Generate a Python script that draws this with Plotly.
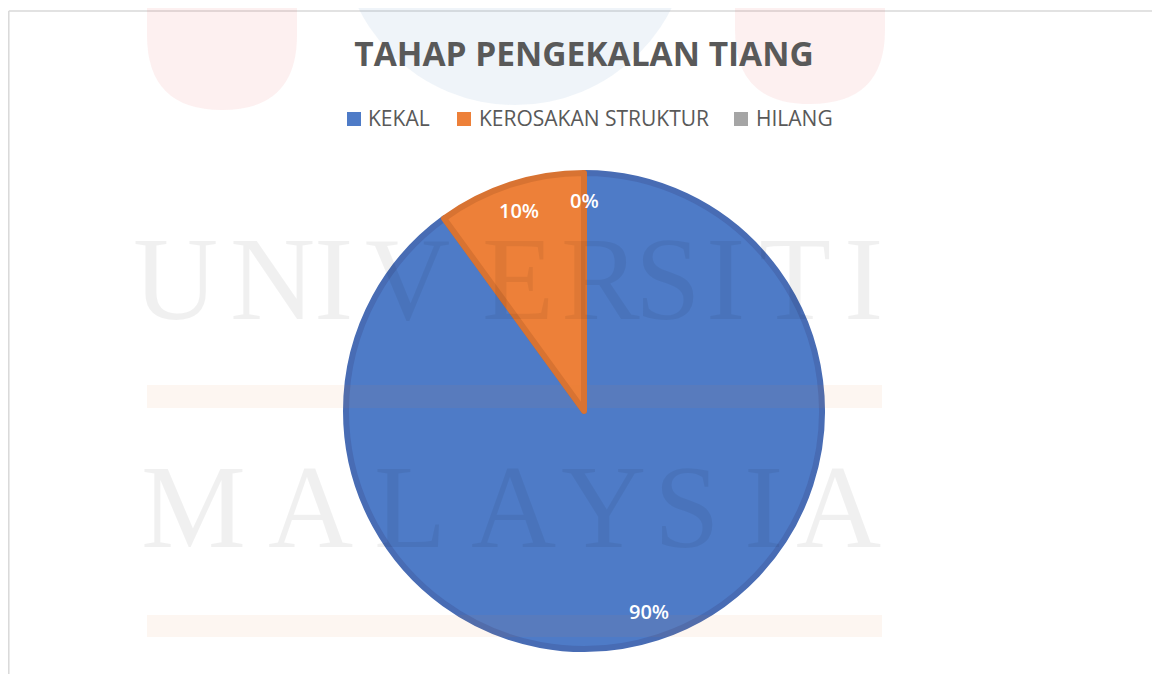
import plotly.graph_objects as go
import numpy as np

# ---- data ----
categories = ["KEKAL", "KEROSAKAN STRUKTUR", "HILANG"]
values = [90, 10, 0]
fill_colors = ["#4e7bc7", "#ed8039", "#a5a5a5"]
edge_colors = ["#486cb4", "#d87332", "#a5a5a5"]
title_text = "TAHAP PENGEKALAN TIANG"

# the page body has an 8px margin, so the figure is offset by 8px on screen
OFF = 8
W, H = 1152, 666
CX, CY, R = 584, 411, 238  # pie centre and radius in screen pixels

def px(x):
    return (x - OFF) / W

def py(y):
    return 1 - (y - OFF) / H

fig = go.Figure()

fig.add_trace(go.Pie(
    labels=categories,
    values=values,
    sort=False,
    direction="clockwise",
    rotation=0,
    textinfo="none",
    hoverinfo="label+percent",
    marker=dict(colors=fill_colors, line=dict(color=edge_colors, width=[6, 6, 0])),
    domain=dict(x=[px(CX - R), px(CX + R)], y=[py(CY + R), py(CY - R)]),
    showlegend=False,
))

# percentage labels positioned from the data (Excel-style best fit near the rim)
total = sum(values)
cum = 0
annotations = []
for v in values:
    mid = (cum + v / 2) / total * 2 * np.pi
    cum += v
    rr = 0.875 * (R + 3)
    x = CX + rr * np.sin(mid)
    y = CY - rr * np.cos(mid)
    annotations.append(dict(
        x=px(x), y=py(y), xref="paper", yref="paper",
        text=f"{v / total * 100:.0f}%", showarrow=False,
        font=dict(family="Open Sans", size=20, color="white", weight=600),
        xanchor="center", yanchor="middle",
    ))

# legend (Excel style: solid squares, tight label spacing)
legend_sq_x = [347, 457, 734]
legend_txt_x = [366, 477, 754]
shapes = []
for name, col, sx, tx in zip(categories, fill_colors, legend_sq_x, legend_txt_x):
    shapes.append(dict(type="rect", xref="paper", yref="paper",
                       x0=px(sx), x1=px(sx + 14), y0=py(126), y1=py(112),
                       line=dict(width=0), fillcolor=col))
    annotations.append(dict(x=px(tx), y=py(118), xref="paper", yref="paper", text=name,
                            showarrow=False, xanchor="left", yanchor="middle",
                            font=dict(family="Open Sans", size=21, color="#595959")))

# faint watermark (background image of the source page)
wm_color = "rgba(0,0,0,0.058)"
row1 = list("UNIVERSITI")
row1_x = [175, 272, 333, 407, 518, 600, 668, 725, 795, 863]
row2 = list("MALAYSIA")
row2_x = [193, 310, 410, 513, 603, 687, 763, 838]
for ch, x in zip(row1, row1_x):
    annotations.append(dict(x=px(x), y=py(279), xref="paper", yref="paper", text=ch,
                            showarrow=False, xanchor="center", yanchor="middle",
                            font=dict(family="Liberation Serif", size=118, color=wm_color)))
for ch, x in zip(row2, row2_x):
    annotations.append(dict(x=px(x), y=py(508), xref="paper", yref="paper", text=ch,
                            showarrow=False, xanchor="center", yanchor="middle",
                            font=dict(family="Liberation Serif", size=118, color=wm_color)))

frame = dict(color="#d9d9d9", width=1.5)
shapes += [
    # chart frame
    dict(type="line", xref="paper", yref="paper", x0=px(8.8), x1=px(1158), y0=py(11), y1=py(11), line=frame),
    dict(type="line", xref="paper", yref="paper", x0=px(8.8), x1=px(8.8), y0=py(11), y1=py(680), line=frame),
    dict(type="line", xref="paper", yref="paper", x0=px(1158), x1=px(1158), y0=py(11), y1=py(680), line=frame),
    # watermark bits
    dict(type="circle", xref="paper", yref="paper", x0=px(340), x1=px(690), y0=py(105), y1=py(-245),
         line=dict(width=0), fillcolor="rgba(100,150,200,0.10)", layer="above"),
    dict(type="path", xref="paper", yref="paper",
         path=f"M {px(147)},{py(-5)} L {px(147)},{py(35)} Q {px(147)},{py(110)} {px(222)},{py(110)} "
              f"Q {px(297)},{py(110)} {px(297)},{py(35)} L {px(297)},{py(-5)} Z",
         line=dict(width=0), fillcolor="rgba(225,60,60,0.075)", layer="above"),
    dict(type="path", xref="paper", yref="paper",
         path=f"M {px(735)},{py(-5)} L {px(735)},{py(30)} Q {px(735)},{py(104)} {px(810)},{py(104)} "
              f"Q {px(885)},{py(104)} {px(885)},{py(30)} L {px(885)},{py(-5)} Z",
         line=dict(width=0), fillcolor="rgba(225,60,60,0.075)", layer="above"),
    dict(type="rect", xref="paper", yref="paper", x0=px(147), x1=px(882), y0=py(408), y1=py(385),
         line=dict(width=0), fillcolor="rgba(220,130,60,0.07)", layer="above"),
    dict(type="rect", xref="paper", yref="paper", x0=px(147), x1=px(882), y0=py(637), y1=py(615),
         line=dict(width=0), fillcolor="rgba(220,130,60,0.07)", layer="above"),
]

fig.update_layout(
    width=W, height=H,
    margin=dict(l=0, r=0, t=0, b=0),
    paper_bgcolor="white",
    title=dict(text=f"<b>{title_text}</b>", x=px(584), xanchor="center", y=py(54), yanchor="middle",
               font=dict(family="Open Sans", size=33.5, color="#595959")),
    showlegend=False,
    annotations=annotations,
    shapes=shapes,
)

fig.write_html("out.html")
